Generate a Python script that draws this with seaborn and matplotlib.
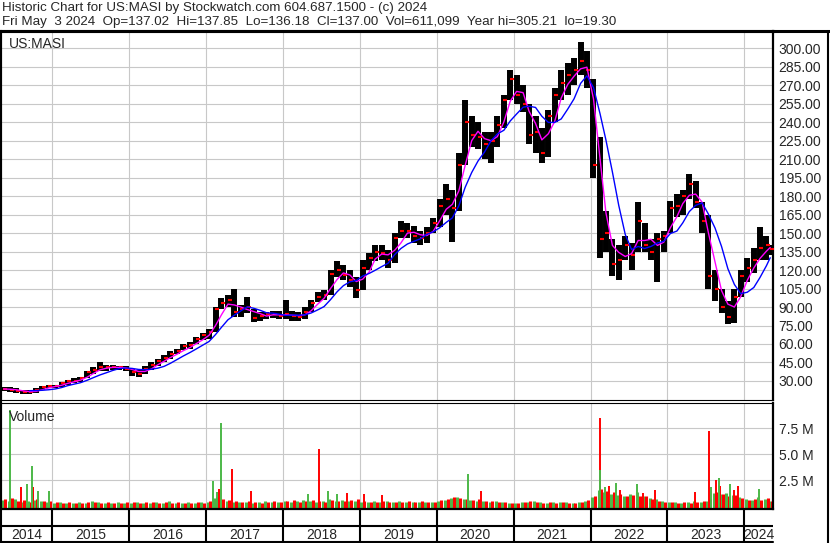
import numpy as np
import pandas as pd
import matplotlib
matplotlib.use("Agg")
import matplotlib.pyplot as plt
import seaborn as sns
from matplotlib.lines import Line2D

# monthly bars, May 2014 .. May 2024 (one row per year)
highs = [25, 25, 24, 22.5, 23, 24, 26, 27,
         27, 29, 31, 32, 33, 38, 41, 45, 43, 43, 42, 42,
         40, 39, 42, 45, 48, 51, 54, 56, 60, 62, 66, 69,
         72, 90, 97, 100, 105, 92, 98, 88, 86, 86, 87, 87,
         96, 87, 86, 90, 96, 102, 104, 120, 127, 124, 120, 114,
         128, 134, 140, 140, 136, 150, 160, 158, 156, 152, 155, 162,
         178, 190, 185, 215, 258, 245, 240, 232, 232, 245, 262, 282,
         278, 270, 255, 245, 235, 250, 268, 282, 288, 292, 305, 298,
         275, 228, 168, 145, 140, 148, 142, 175, 158, 145, 150, 152,
         176, 182, 185, 198, 192, 175, 165, 120, 105, 95, 105, 120,
         130, 138, 155, 148, 140]
lows = [22, 21, 20, 19.5, 19.3, 20, 23, 24,
        24, 25, 27, 28, 29, 32, 36, 38, 38, 39, 39, 38,
        34, 33, 36, 39, 42, 45, 48, 52, 55, 56, 60, 63,
        64, 70, 88, 90, 82, 82, 85, 78, 79, 80, 81, 80,
        80, 79, 79, 80, 86, 94, 96, 100, 114, 112, 106, 97,
        104, 120, 127, 128, 122, 126, 146, 146, 142, 140, 142, 150,
        155, 165, 143, 168, 205, 220, 218, 210, 207, 220, 235, 258,
        255, 248, 222, 215, 207, 212, 240, 258, 262, 270, 278, 268,
        195, 130, 135, 115, 112, 128, 120, 135, 135, 128, 110, 135,
        150, 163, 165, 178, 170, 150, 105, 95, 85, 76, 77, 98,
        110, 118, 128, 128, 132]
closes = [23.5, 23, 22, 21, 21, 22.5, 25, 25.5,
          26, 28, 30, 30, 32, 37, 39, 41, 41, 41, 41, 40,
          37, 36, 40, 43, 46, 49, 52, 54, 58, 59, 64, 67,
          70, 88, 93, 96, 86, 88, 90, 81, 83, 84, 84, 83,
          84, 83, 82, 86, 93, 98, 100, 117, 120, 116, 112, 104,
          122, 130, 135, 134, 128, 146, 152, 152, 148, 146, 150, 158,
          172, 178, 170, 205, 240, 230, 228, 222, 225, 238, 258, 275,
          262, 255, 230, 232, 215, 245, 262, 272, 278, 282, 290, 282,
          205, 145, 150, 125, 128, 140, 132, 160, 140, 135, 145, 148,
          170, 172, 180, 190, 175, 160, 115, 105, 90, 82, 98, 115,
          122, 128, 138, 140, 137]

# typical daily volume per month (millions), up days and down days
vol_up = [0.6, 0.5, 0.7, 0.4, 0.5, 0.6, 0.5, 0.4,
          0.3, 0.4, 0.3, 0.3, 0.4, 0.3, 0.5, 0.4, 0.3, 0.3, 0.4, 0.3,
          0.3, 0.4, 0.3, 0.3, 0.4, 0.3, 0.5, 0.3, 0.3, 0.4, 0.3, 0.4,
          0.4, 0.8, 0.6, 0.5, 0.4, 0.4, 0.4, 0.3, 0.4, 0.5, 0.4, 0.4,
          0.5, 0.4, 0.5, 0.6, 0.5, 0.4, 0.5, 0.7, 0.5, 0.6, 0.5, 0.5,
          0.4, 0.4, 0.5, 0.4, 0.5, 0.4, 0.5, 0.4, 0.4, 0.4, 0.4, 0.4,
          0.5, 0.6, 0.8, 0.9, 0.7, 0.6, 0.5, 0.5, 0.4, 0.5, 0.4, 0.3,
          0.3, 0.4, 0.4, 0.5, 0.4, 0.3, 0.4, 0.4, 0.4, 0.3, 0.4, 0.5,
          0.9, 1.6, 1.4, 1.2, 1.1, 1.0, 1.2, 1.4, 1.0, 0.8, 0.7, 0.5,
          0.4, 0.4, 0.3, 0.4, 0.5, 0.4, 0.5, 1.3, 1.2, 1.3, 1.1, 0.9,
          0.7, 0.6, 0.9, 0.7, 0.5]
vol_dn = [0.7, 0.8, 0.5, 0.6, 0.4, 0.7, 0.5, 0.5,
          0.4, 0.3, 0.4, 0.3, 0.3, 0.4, 0.4, 0.3, 0.4, 0.3, 0.3, 0.4,
          0.4, 0.3, 0.4, 0.4, 0.3, 0.4, 0.3, 0.4, 0.3, 0.3, 0.4, 0.3,
          0.5, 0.9, 0.7, 0.6, 0.5, 0.4, 0.5, 0.4, 0.3, 0.4, 0.5, 0.4,
          0.5, 0.6, 0.4, 0.5, 0.6, 0.5, 0.4, 0.6, 0.5, 0.5, 0.6, 0.7,
          0.5, 0.4, 0.4, 0.5, 0.4, 0.4, 0.4, 0.5, 0.4, 0.5, 0.4, 0.4,
          0.6, 0.7, 0.9, 0.8, 0.7, 0.6, 0.7, 0.5, 0.5, 0.4, 0.4, 0.3,
          0.3, 0.4, 0.5, 0.4, 0.3, 0.4, 0.3, 0.4, 0.3, 0.3, 0.4, 0.6,
          1.0, 1.7, 1.5, 1.4, 1.2, 1.0, 1.1, 1.0, 1.0, 0.7, 0.5, 0.4,
          0.4, 0.3, 0.4, 0.3, 0.4, 0.5, 0.7, 1.4, 1.2, 1.0, 1.1, 0.8,
          0.6, 0.7, 0.6, 0.8, 0.5]

# single days with heavy volume
spike_dates = ["2014-06-14", "2014-08-05", "2014-09-03", "2014-09-26", "2014-10-01",
               "2014-10-25", "2014-12-15", "2017-02-03", "2017-02-21", "2017-03-03",
               "2017-03-15", "2017-05-04", "2017-08-01", "2018-04-28", "2018-06-20",
               "2018-08-02", "2018-09-14", "2018-11-01", "2019-01-20", "2019-04-15",
               "2020-05-28", "2020-07-29", "2022-02-15", "2022-02-16", "2022-03-10",
               "2022-03-28", "2022-05-01", "2022-05-20", "2022-08-08", "2022-09-07",
               "2022-11-05", "2023-05-12", "2023-07-18", "2023-07-25", "2023-08-20",
               "2023-09-01", "2023-09-10", "2023-10-25", "2023-11-12", "2023-12-01",
               "2024-03-10"]
spike_vols = [9.3, 1.9, 2.1, 3.9, 1.9, 1.5, 1.5, 2.4, 1.4, 1.7,
              8.0, 3.6, 1.5, 1.2, 5.5, 1.5, 1.2, 1.3, 1.2, 1.1,
              3.1, 1.5, 8.5, 3.5, 1.9, 2.0, 2.2, 1.6, 2.1, 1.3,
              1.6, 1.4, 7.2, 1.9, 2.5, 2.7, 2.0, 2.1, 1.6, 2.0,
              1.7]
spike_up = [1, 0, 1, 1, 0, 1, 1, 1, 1, 0,
            1, 0, 0, 1, 0, 1, 1, 0, 0, 0,
            1, 0, 0, 1, 1, 0, 1, 0, 1, 0,
            0, 0, 0, 1, 0, 1, 0, 1, 0, 0,
            1]

price_ticks = list(range(30, 301, 15))
vol_ticks = [2.5, 5.0, 7.5]
years = list(range(2014, 2025))


def dec_year(d):
    d = pd.DatetimeIndex(d)
    return np.asarray(d.year + (d.dayofyear - 1) / 365.25)


months = pd.date_range("2014-05-01", "2024-05-01", freq="MS") + pd.Timedelta(days=14)
months = months[:-1].append(pd.DatetimeIndex(["2024-05-03"]))
t = dec_year(months)
df = pd.DataFrame({"t": t, "high": highs, "low": lows, "close": closes,
                   "vol_up": vol_up, "vol_dn": vol_dn})
df["ma_fast"] = df["close"].rolling(3, min_periods=1).mean()
df["ma_slow"] = df["close"].rolling(6, min_periods=5).mean()
spikes = pd.DataFrame({"t": dec_year(spike_dates), "vol": spike_vols, "up": spike_up})

sns.set_style("white")
plt.rcParams["font.family"] = ["Liberation Sans", "DejaVu Sans"]

W, H = 830, 543
fig = plt.figure(figsize=(W / 100, H / 100), dpi=100)


def px_axes(x0, y0, x1, y1):
    return fig.add_axes([x0 / W, 1 - y1 / H, (x1 - x0) / W, (y1 - y0) / H])


XMIN, XMAX = 2014.333, 2024.373
GRID = "#c8c8c8"
GREEN = "#4cb848"

# ---- price panel
ax = px_axes(1, 31, 773, 400)
ax.set_xlim(XMIN, XMAX)
ax.set_ylim(14.53, 314.04)
ax.set_xticks(years[1:])
ax.set_yticks(price_ticks)
ax.set_yticklabels([f"{v:.2f}" for v in price_ticks])
ax.grid(True, color=GRID, lw=0.8)
ax.set_axisbelow(True)
ax.yaxis.tick_right()
ax.tick_params(axis="y", length=0, pad=4, labelsize=10)
ax.tick_params(axis="x", length=0, labelbottom=False)
ax.vlines(df["t"], df["low"], df["high"], color="black", lw=4.3, zorder=2)
ax.plot(df["t"] + 0.02, df["close"], "_", color="red", ms=3, mew=1.5, zorder=3)
sns.lineplot(x=df["t"], y=df["ma_fast"], ax=ax, color="#ff00ff", lw=1, zorder=4)
sns.lineplot(x=df["t"], y=df["ma_slow"], ax=ax, color="#0000ff", lw=1, zorder=4)
ax.set_xlabel("")
ax.set_ylabel("")
ax.text(0.01, 0.985, "US:MASI", transform=ax.transAxes, ha="left", va="top", fontsize=10)
for side, lw in [("left", 1.5), ("right", 1.6), ("top", 2.2), ("bottom", 0.8)]:
    ax.spines[side].set_color("black")
    ax.spines[side].set_linewidth(lw)

# ---- volume panel
vx = px_axes(1, 402.5, 773, 508.5)
vx.set_xlim(XMIN, XMAX)
vfloor = -0.21
vx.set_ylim(vfloor, 9.98)
vx.set_xticks(years[1:])
vx.set_yticks(vol_ticks)
vx.set_yticklabels([f"{v:.1f} M" for v in vol_ticks])
vx.grid(True, color=GRID, lw=0.8)
vx.set_axisbelow(True)
vx.yaxis.tick_right()
vx.tick_params(axis="y", length=0, pad=4, labelsize=10)
vx.tick_params(axis="x", length=0, labelbottom=False)
off = 0.22 / 12
vx.vlines(df["t"] - off, vfloor, df["vol_up"], color=GREEN, lw=2.2)
vx.vlines(df["t"] + off, vfloor, df["vol_dn"], color="red", lw=2.2)
for up, grp in spikes.groupby("up"):
    vx.vlines(grp["t"], vfloor, grp["vol"], color=GREEN if up else "red", lw=1.4)
vx.text(0.01, 0.93, "Volume", transform=vx.transAxes, ha="left", va="top", fontsize=10)
for side, lw in [("left", 1.5), ("right", 1.6), ("top", 0.8), ("bottom", 1.6)]:
    vx.spines[side].set_color("black")
    vx.spines[side].set_linewidth(lw)

# ---- year strip
yx = px_axes(1, 509, 773, 542)
yx.set_xlim(XMIN, XMAX)
yx.set_ylim(0, 1)
yx.axis("off")
yx.vlines(years[1:], 0, 1, color="black", lw=1.5)
yx.axhline(0.47, color="black", lw=1.5)
for y in years:
    lo, hi = max(y, XMIN), min(y + 1, XMAX)
    yx.text((lo + hi) / 2, 0.22, str(y), ha="center", va="center", fontsize=10)

# ---- outer frame
def fig_line(x0, y0, x1, y1, lw):
    fig.add_artist(Line2D([x0 / W, x1 / W], [1 - y0 / H, 1 - y1 / H],
                          transform=fig.transFigure, color="black", lw=lw))


fig_line(0, 31, W, 31, 2.2)
fig_line(828, 31, 828, H, 1.5)
fig_line(1, 31, 1, H, 1.5)
fig_line(0, 541.5, 773, 541.5, 1.5)

fig.text(2 / W, 1 - 1.5 / H, "Historic Chart for US:MASI by Stockwatch.com 604.687.1500 - (c) 2024",
         ha="left", va="top", fontsize=9.6)
fig.text(2 / W, 1 - 15.5 / H,
         "Fri May  3 2024  Op=137.02  Hi=137.85  Lo=136.18  Cl=137.00  Vol=611,099  Year hi=305.21  lo=19.30",
         ha="left", va="top", fontsize=9.6)

fig.savefig("out.png", dpi=100)
